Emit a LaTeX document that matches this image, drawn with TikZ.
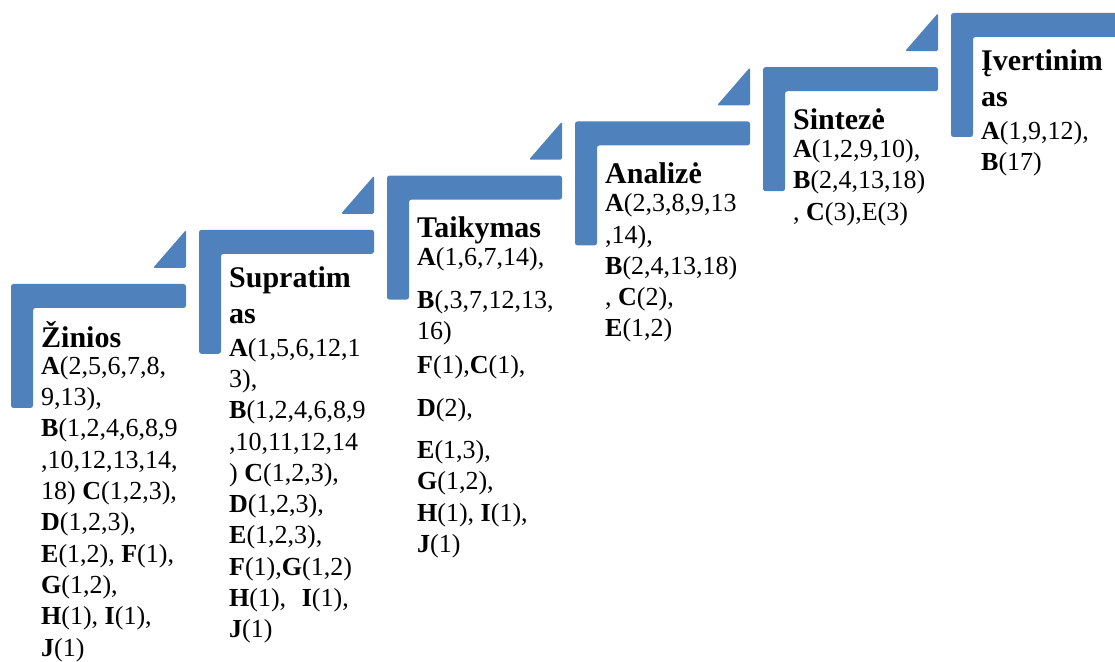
\documentclass[tikz,border=0pt]{standalone}
\usepackage{fontspec}
\setmainfont{Liberation Serif}
\usepackage{xcolor}
\usetikzlibrary{positioning}
\usetikzlibrary{calc}
\definecolor{stepblue}{HTML}{4F81BD}

\begin{document}
\begin{tikzpicture}[
  x=1pt, y=1pt,
  bracket/.style={fill=stepblue, rounded corners=2.5pt},
  corner/.style={fill=stepblue, rounded corners=1.5pt},
  head/.style={anchor=north west, inner sep=0pt, align=left, execute at begin node=\strut, font=\fontsize{30}{36}\selectfont\bfseries},
  body/.style={anchor=north west, inner sep=0pt, align=left, execute at begin node=\strut, font=\fontsize{26}{31.3}\selectfont}
]
\useasboundingbox (0,0) rectangle (1115,661);
\clip (0,0) rectangle (1115,661);

% top left corner of each step
\foreach \i in {0,...,5}
  \coordinate (s\i) at ({11+188*\i},{377+54.2*\i});

% steps (L-shaped brackets)
\foreach \i in {0,...,5}
  \fill[bracket] (s\i) -- ++(175,0) -- ++(0,-24) -- ++(-153,0) -- ++(0,-100) -- ++(-22,0) -- cycle;

% small corner triangles
\foreach \i in {0,...,4}
  \fill[corner] ($(s\i)+(142,16)$) -- ++(33,0) -- ++(0,38) -- cycle;

% Žinios
\node[head] (h0) at ($(s0)+(30,-36.8)$) {Žinios};
\node[body] (b0) at ($(s0)+(30,-72.1)$) {\textbf{A}(2,5,6,7,8,\\9,13),\\\textbf{B}(1,2,4,6,8,9\\,10,12,13,14,\\18) \textbf{C}(1,2,3),\\\textbf{D}(1,2,3),\\\textbf{E}(1,2), \textbf{F}(1),\\\textbf{G}(1,2),\\\textbf{H}(1), \textbf{I}(1),\\\textbf{J}(1)};

% Supratimas
\node[head] (h1) at ($(s1)+(30,-36.8)$) {Supratim\\as};
\node[body] (b1) at ($(s1)+(30,-108.1)$) {\textbf{A}(1,5,6,12,1\\3),\\\textbf{B}(1,2,4,6,8,9\\,10,11,12,14\\) \textbf{C}(1,2,3),\\\textbf{D}(1,2,3),\\\textbf{E}(1,2,3),\\\textbf{F}(1),\textbf{G}(1,2)\\\textbf{H}(1),\hspace{0.6em}\textbf{I}(1),\\\textbf{J}(1)};

% Taikymas
\node[head] (h2) at ($(s2)+(30,-36.8)$) {Taikymas};
\node[body] (b2) at ($(s2)+(30,-72.1)$) {\textbf{A}(1,6,7,14),\\[11pt]\textbf{B}(,3,7,12,13,\\16)\\[3pt]\textbf{F}(1),\textbf{C}(1),\\[11pt]\textbf{D}(2),\\[11pt]\textbf{E}(1,3),\\\textbf{G}(1,2),\\\textbf{H}(1), \textbf{I}(1),\\\textbf{J}(1)};

% Analizė
\node[head] (h3) at ($(s3)+(30,-36.8)$) {Analizė};
\node[body] (b3) at ($(s3)+(30,-72.1)$) {\textbf{A}(2,3,8,9,13\\,14),\\\textbf{B}(2,4,13,18)\\, \textbf{C}(2),\\\textbf{E}(1,2)};

% Sintezė
\node[head] (h4) at ($(s4)+(30,-36.8)$) {Sintezė};
\node[body] (b4) at ($(s4)+(30,-72.1)$) {\textbf{A}(1,2,9,10),\\\textbf{B}(2,4,13,18)\\, \textbf{C}(3),E(3)};

% Įvertinimas
\node[head] (h5) at ($(s5)+(30,-36.8)$) {Įvertinim\\as};
\node[body] (b5) at ($(s5)+(30,-108.1)$) {\textbf{A}(1,9,12),\\\textbf{B}(17)};

\end{tikzpicture}
\end{document}
